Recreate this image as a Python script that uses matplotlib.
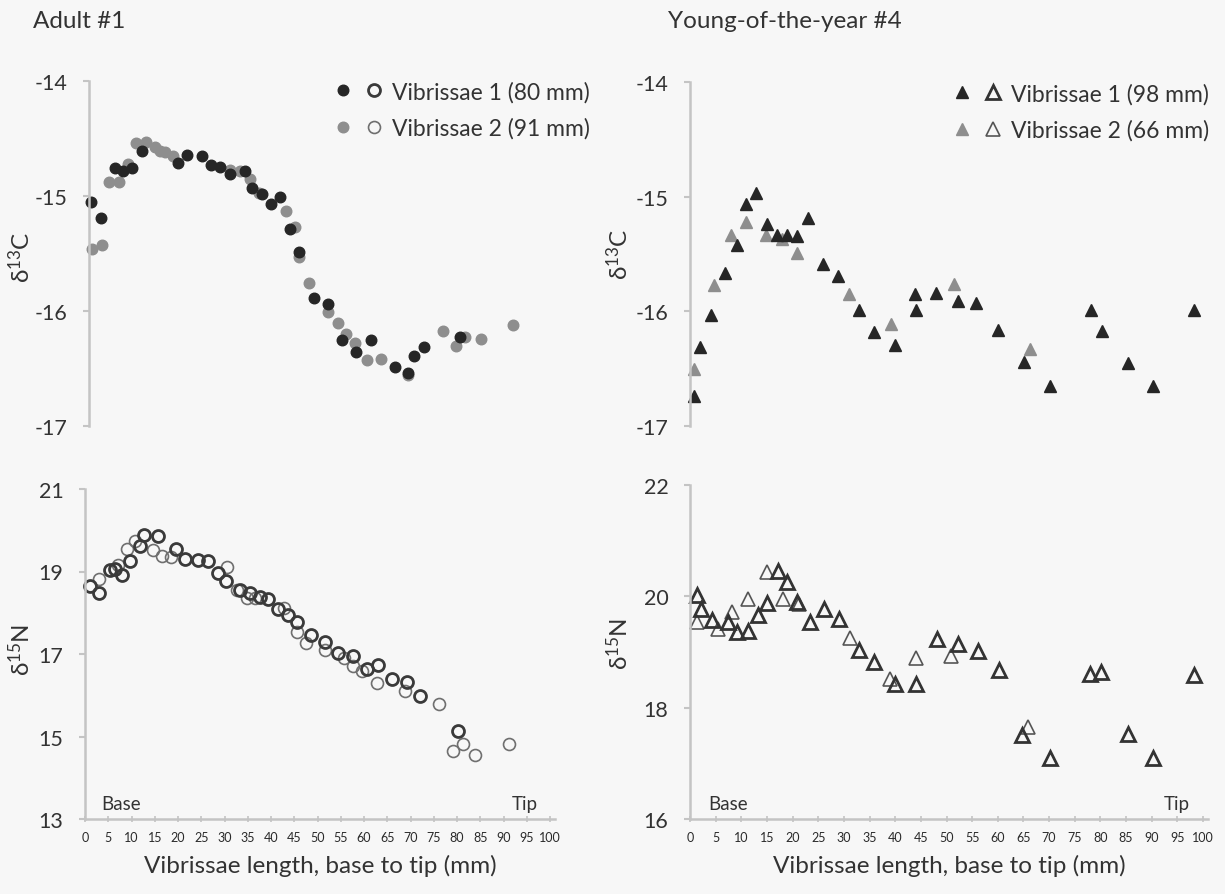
import matplotlib
matplotlib.use("Agg")
import matplotlib.pyplot as plt
from matplotlib.legend_handler import HandlerTuple

plt.rcParams["font.family"] = ["Lato", "Open Sans", "DejaVu Sans"]
plt.rcParams["mathtext.default"] = "regular"
plt.rcParams["axes.unicode_minus"] = False

# ---------------- Adult #1 ----------------
adult_c_v1_x = [0.5, 2.5, 5.5, 7.3, 9.3, 11.3, 19.1, 21.1, 24.2, 26.3, 28.2, 30.3, 33.5, 35.1,
                37.2, 39.2, 41.1, 43.2, 45.2, 48.3, 51.4, 54.5, 57.5, 60.6, 65.7, 68.7, 69.9,
                72.0, 79.7]
adult_c_v1_y = [-15.05, -15.19, -14.76, -14.78, -14.76, -14.61, -14.71, -14.64, -14.65, -14.73,
                -14.75, -14.81, -14.78, -14.93, -14.98, -15.07, -15.01, -15.29, -15.49, -15.89,
                -15.94, -16.25, -16.36, -16.25, -16.49, -16.54, -16.39, -16.31, -16.23]
adult_c_v2_x = [0.6, 2.7, 4.4, 6.5, 8.4, 10.2, 12.2, 14.1, 15.2, 16.3, 18.1, 30.3, 32.4, 34.6,
                36.6, 42.4, 44.2, 45.2, 47.3, 51.4, 53.5, 55.3, 57.3, 59.8, 62.7, 68.7, 76.1,
                78.9, 80.8, 84.2, 91.2]
adult_c_v2_y = [-15.46, -15.43, -14.88, -14.88, -14.72, -14.54, -14.53, -14.57, -14.61, -14.62,
                -14.65, -14.77, -14.78, -14.85, -14.97, -15.13, -15.27, -15.53, -15.76, -16.01,
                -16.10, -16.20, -16.28, -16.43, -16.42, -16.56, -16.17, -16.30, -16.23, -16.24,
                -16.12]
adult_n_v1_x = [1.1, 3.0, 5.4, 6.5, 7.9, 9.7, 11.8, 12.7, 15.6, 19.6, 21.5, 24.4, 26.5, 28.5,
                30.3, 33.3, 35.5, 37.6, 39.4, 41.6, 43.7, 45.5, 48.7, 51.6, 54.5, 57.7, 60.6,
                63.1, 66.1, 69.2, 72.0, 80.3]
adult_n_v1_y = [18.64, 18.47, 19.03, 19.07, 18.91, 19.26, 19.63, 19.89, 19.85, 19.54, 19.31,
                19.29, 19.25, 18.97, 18.77, 18.55, 18.47, 18.39, 18.33, 18.08, 17.95, 17.78,
                17.45, 17.30, 17.02, 16.96, 16.63, 16.74, 16.39, 16.31, 15.99, 15.13]
adult_n_v2_x = [3.0, 7.2, 9.0, 10.8, 14.7, 16.5, 18.6, 30.5, 32.6, 34.8, 36.6, 42.7, 45.5, 47.5,
                51.6, 55.6, 57.7, 59.5, 62.9, 68.8, 76.1, 79.2, 81.2, 83.9, 91.2]
adult_n_v2_y = [18.83, 19.15, 19.55, 19.75, 19.51, 19.37, 19.34, 19.11, 18.55, 18.35, 18.35,
                18.11, 17.54, 17.26, 17.10, 16.90, 16.70, 16.58, 16.30, 16.10, 15.79, 14.65,
                14.81, 14.55, 14.81]

# ---------------- Young-of-the-year #4 ----------------
yoy_c_v1_x = [0.8, 1.9, 4.0, 6.8, 9.1, 11.0, 12.8, 15.0, 17.0, 19.0, 20.9, 23.0, 26.0, 28.9,
              32.9, 35.9, 40.0, 43.8, 44.1, 48.0, 52.2, 55.8, 60.1, 65.2, 70.2, 78.1, 80.3,
              85.3, 90.2, 98.2]
yoy_c_v1_y = [-16.74, -16.31, -16.03, -15.67, -15.42, -15.06, -14.97, -15.24, -15.33, -15.33,
              -15.34, -15.19, -15.59, -15.69, -15.99, -16.18, -16.29, -15.85, -15.99, -15.84,
              -15.91, -15.93, -16.16, -16.44, -16.65, -15.99, -16.17, -16.45, -16.65, -15.99]
yoy_c_v2_x = [0.8, 4.7, 8.0, 11.0, 14.9, 17.9, 20.9, 30.9, 39.1, 51.4, 66.3]
yoy_c_v2_y = [-16.50, -15.77, -15.33, -15.22, -15.33, -15.37, -15.49, -15.85, -16.11, -15.76,
              -16.33]
yoy_n_v1_x = [1.4, 2.1, 4.2, 7.4, 9.2, 11.3, 13.2, 15.1, 17.1, 19.0, 20.9, 23.3, 26.1, 29.1,
              33.0, 35.9, 40.0, 44.0, 48.1, 52.2, 56.2, 60.3, 64.8, 70.2, 77.9, 80.2, 85.3,
              90.2, 98.2]
yoy_n_v1_y = [20.02, 19.77, 19.57, 19.53, 19.36, 19.38, 19.66, 19.88, 20.45, 20.26, 19.89,
              19.54, 19.78, 19.59, 19.04, 18.82, 18.42, 18.42, 19.23, 19.15, 19.01, 18.67,
              17.51, 17.10, 18.61, 18.64, 17.52, 17.10, 18.58]
yoy_n_v2_x = [1.4, 5.5, 8.1, 11.3, 15.1, 18.2, 21.2, 31.2, 38.9, 44.0, 50.9, 65.9]
yoy_n_v2_y = [19.54, 19.41, 19.71, 19.95, 20.43, 19.95, 19.86, 19.26, 18.52, 18.89, 18.93,
              17.65]

x_ticks = list(range(0, 101, 5))
titles = ["Adult #1", "Young-of-the-year #4"]
legend_adult = ["Vibrissae 1 (80 mm)", "Vibrissae 2 (91 mm)"]
legend_yoy = ["Vibrissae 1 (98 mm)", "Vibrissae 2 (66 mm)"]
c_ticks = [-17, -16, -15, -14]
n_ticks_adult = [13, 15, 17, 19, 21]
n_ticks_yoy = [16, 18, 20, 22]
x_label = "Vibrissae length, base to tip (mm)"

W, H = 1225, 895
TEXT = "#333333"
AXIS = "#c4c4c4"
DARK = "#262626"
GREY = "#8e8e8e"
XMIN, XMAX = 0, 101

fig = plt.figure(figsize=(W / 100, H / 100), dpi=100)
fig.patch.set_facecolor("#f7f7f7")


def make_axes(x0, px_per_mm, ytop, ybot):
    """Axes whose data x=0 sits at pixel x0 and spans ytop..ybot in pixels."""
    left = x0 + XMIN * px_per_mm
    right = x0 + XMAX * px_per_mm
    ax = fig.add_axes([left / W, 1 - ybot / H, (right - left) / W, (ybot - ytop) / H])
    ax.set_facecolor("none")
    ax.set_xlim(XMIN, XMAX)
    for s in ("top", "right"):
        ax.spines[s].set_visible(False)
    for s in ("left", "bottom"):
        ax.spines[s].set_color(AXIS)
        ax.spines[s].set_linewidth(1.8)
    ax.tick_params(axis="y", direction="out", length=4.5, width=1.5, color=AXIS,
                   labelsize=15.5, labelcolor=TEXT, pad=11)
    for t in ax.get_yticklabels():
        t.set_clip_on(False)
    return ax


def style_top(ax):
    ax.spines["bottom"].set_visible(False)
    ax.set_xticks([])
    ax.set_ylim(-17, -14)
    ax.set_yticks(c_ticks)


def style_bottom(ax, lo, hi, ticks):
    ax.set_ylim(lo, hi)
    ax.set_yticks(ticks)
    ax.set_xticks(x_ticks)
    ax.tick_params(axis="x", direction="inout", length=5, width=1.2, color=AXIS,
                   labelsize=9, labelcolor="#2a2a2a", pad=6)
    ax.text(0.035, 0.02, "Base", transform=ax.transAxes, ha="left", va="bottom",
            fontsize=13.5, color=TEXT)
    ax.text(0.965, 0.02, "Tip", transform=ax.transAxes, ha="right", va="bottom",
            fontsize=13.5, color=TEXT)
    ax.set_xlabel(x_label, fontsize=17.5, color=TEXT, labelpad=8)


# ---- Adult panels ----
ax1 = make_axes(89, 4.65, 82, 427)
style_top(ax1)
a1, = ax1.plot(adult_c_v2_x, adult_c_v2_y, "o", ls="none", ms=7.6, color=GREY, mec=GREY,
               clip_on=False)
a2, = ax1.plot(adult_c_v1_x, adult_c_v1_y, "o", ls="none", ms=7.6, color=DARK, mec=DARK,
               clip_on=False)

ax2 = make_axes(85, 4.65, 490, 820)
style_bottom(ax2, 13, 21, n_ticks_adult)
b1, = ax2.plot(adult_n_v2_x, adult_n_v2_y, "o", ls="none", ms=8.6, mfc="none",
               mec="#6f6f6f", mew=1.2, clip_on=False)
b2, = ax2.plot(adult_n_v1_x, adult_n_v1_y, "o", ls="none", ms=8.6, mfc="none",
               mec="#3a3a3a", mew=2.0, clip_on=False)

# ---- Young-of-the-year panels ----
ax3 = make_axes(690, 5.13, 83, 427)
style_top(ax3)
c1, = ax3.plot(yoy_c_v2_x, yoy_c_v2_y, "^", ls="none", ms=8.4, color=GREY, mec=GREY,
               clip_on=False)
c2, = ax3.plot(yoy_c_v1_x, yoy_c_v1_y, "^", ls="none", ms=8.4, color=DARK, mec=DARK,
               clip_on=False)

ax4 = make_axes(690, 5.13, 486, 820)
style_bottom(ax4, 16, 22, n_ticks_yoy)
d1, = ax4.plot(yoy_n_v2_x, yoy_n_v2_y, "^", ls="none", ms=10, mfc="none",
               mec="#555555", mew=1.2, clip_on=False)
d2, = ax4.plot(yoy_n_v1_x, yoy_n_v1_y, "^", ls="none", ms=10, mfc="none",
               mec="#333333", mew=2.0, clip_on=False)

# ---- legends: filled (δ13C) and open (δ15N) symbol side by side ----
for ax, handles, labels, anchor in [
    (ax1, [(a2, b2), (a1, b1)], legend_adult, (333, 82)),
    (ax3, [(c2, d2), (c1, d1)], legend_yoy, (952, 84)),
]:
    leg = ax.legend(handles, labels, handler_map={tuple: HandlerTuple(ndivide=None, pad=0.5)},
                    loc="upper left", bbox_to_anchor=(anchor[0] / W, 1 - anchor[1] / H),
                    bbox_transform=fig.transFigure, frameon=False, fontsize=16.5,
                    handlelength=2.2, handletextpad=0.38, labelspacing=0.65,
                    borderpad=0, borderaxespad=0, numpoints=1)
    for t in leg.get_texts():
        t.set_color(TEXT)

# ---- panel titles and axis labels ----
fig.text(33 / W, 1 - 22 / H, titles[0], ha="left", va="center", fontsize=17.5, color=TEXT)
fig.text(668 / W, 1 - 22 / H, titles[1], ha="left", va="center", fontsize=17.5, color=TEXT)
for x, y, s in [(21, 257, "δ$^{13}$C"), (21, 650, "δ$^{15}$N"),
                (619, 254, "δ$^{13}$C"), (619, 644, "δ$^{15}$N")]:
    fig.text(x / W, 1 - y / H, s, rotation=90, ha="center", va="center",
             fontsize=17.5, color=TEXT)

fig.savefig("out.png", dpi=100, facecolor=fig.get_facecolor())
